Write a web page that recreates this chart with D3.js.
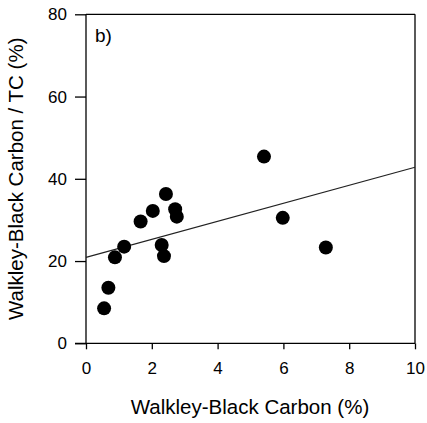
<!DOCTYPE html>
<html><head><meta charset="utf-8">
<script src="https://cdn.jsdelivr.net/npm/d3@7"></script>
<style>body{margin:0;background:#fff}svg text{font-family:"Liberation Sans",Arial,sans-serif;fill:#000}</style>
</head><body><svg id="c" width="427" height="423"></svg>
<script>
const wbc = [2.43, 2.03, 1.66, 2.71, 2.76, 1.16, 0.88, 2.30, 2.37, 0.68, 0.55, 5.41, 5.98, 7.29];
const ratio = [36.3, 32.2, 29.6, 32.6, 30.8, 23.5, 20.9, 23.9, 21.2, 13.5, 8.5, 45.4, 30.5, 23.3];
const fitX = [0, 10];
const fitY = [20.9, 42.8];
const xTicks = [0, 2, 4, 6, 8, 10];
const yTicks = [0, 20, 40, 60, 80];
const panelLabel = "b)";
const xTitle = "Walkley-Black Carbon (%)";
const yTitle = "Walkley-Black Carbon / TC (%)";

const svg = d3.select("#c");
const L = 86, R = 415, T = 14.3, B = 343.3;
const x = d3.scaleLinear().domain([0, 10]).range([L, R]);
const y = d3.scaleLinear().domain([0, 80]).range([B, T]);

// frame
svg.append("line").attr("x1", L).attr("x2", R).attr("y1", T).attr("y2", T).attr("stroke", "#000").attr("stroke-width", 1.3);
svg.append("line").attr("x1", R).attr("x2", R).attr("y1", T).attr("y2", B).attr("stroke", "#000").attr("stroke-width", 1.3);

const xa = svg.append("g").attr("transform", `translate(0,${B})`)
  .call(d3.axisBottom(x).tickValues(xTicks).tickSize(6).tickPadding(13).tickFormat(d3.format("d")));
const ya = svg.append("g").attr("transform", `translate(${L},0)`)
  .call(d3.axisLeft(y).tickValues(yTicks).tickSize(11).tickPadding(8).tickFormat(d3.format("d")));
[xa, ya].forEach(g => {
  g.select(".domain").attr("stroke-width", 1.3);
  g.selectAll(".tick line").attr("stroke-width", 1.3);
  g.selectAll("text").attr("font-size", 17).attr("font-family", "Liberation Sans, Arial, sans-serif");
});
ya.select(".domain").attr("d", `M0,${T}V${B}`);
xa.select(".domain").attr("d", `M${L - 11},0H${R}`);

// fit line
svg.append("line")
  .attr("x1", x(fitX[0])).attr("y1", y(fitY[0]))
  .attr("x2", x(fitX[1])).attr("y2", y(fitY[1]))
  .attr("stroke", "#222").attr("stroke-width", 1.2);

svg.append("g").selectAll("circle").data(wbc.map((d, i) => [d, ratio[i]])).join("circle")
  .attr("cx", d => x(d[0])).attr("cy", d => y(d[1])).attr("r", 7).attr("fill", "#000");

svg.append("text").attr("x", 95).attr("y", 42).attr("font-size", 19).text(panelLabel);
svg.append("text").attr("x", 250).attr("y", 414).attr("text-anchor", "middle").attr("font-size", 20.5).text(xTitle);
svg.append("text").attr("transform", `translate(23,${(T + B) / 2}) rotate(-90)`).attr("text-anchor", "middle").attr("font-size", 20.5).text(yTitle);
</script></body></html>
